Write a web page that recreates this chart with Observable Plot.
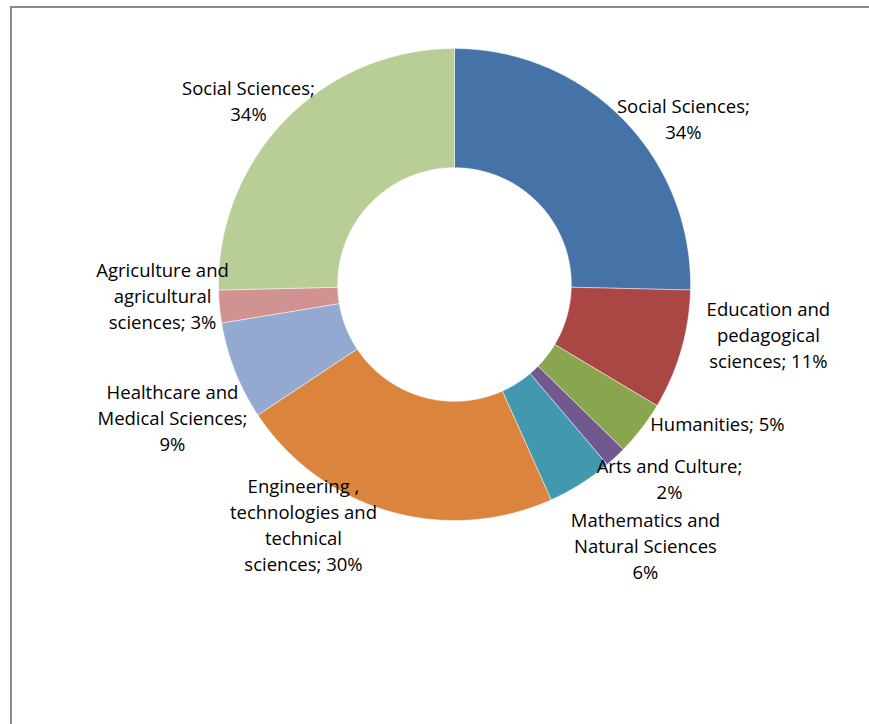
<!DOCTYPE html>
<html>
<head>
<meta charset="utf-8">
<script src="https://cdn.jsdelivr.net/npm/d3@7"></script>
<script src="https://cdn.jsdelivr.net/npm/@observablehq/plot@0.6"></script>
<style>
  html, body { margin: 0; padding: 0; background: #fff; overflow: hidden; }
  #wrap { position: relative; width: 869px; height: 724px; }
  #border { position: absolute; left: 10px; top: 6px; width: 900px; height: 800px;
            border-top: 2px solid #8a8a8a; border-left: 2px solid #8a8a8a; }
  #chart { position: absolute; left: 0; top: 0; }
</style>
</head>
<body>
<div id="wrap"><div id="border"></div><div id="chart"></div></div>
<script>
// ---- data ----
const categories = [
  "Social Sciences (a)",
  "Education and pedagogical sciences",
  "Humanities",
  "Arts and Culture",
  "Mathematics and Natural Sciences",
  "Engineering, technologies and technical sciences",
  "Healthcare and Medical Sciences",
  "Agriculture and agricultural sciences",
  "Social Sciences (b)"
];
const values = [34, 11, 5, 2, 6, 30, 9, 3, 34];
const labels = [
  "Social Sciences;\n34%",
  "Education and\npedagogical\nsciences; 11%",
  "Humanities; 5%",
  "Arts and Culture;\n2%",
  "Mathematics and\nNatural Sciences\n6%",
  "Engineering ,\ntechnologies and\ntechnical\nsciences; 30%",
  "Healthcare and\nMedical Sciences;\n9%",
  "Agriculture and\nagricultural\nsciences; 3%",
  "Social Sciences;\n34%"
];
const colors = ["#4572A7", "#AA4643", "#89A54E", "#71588F", "#4198AF", "#DB843D", "#93A9CF", "#D19392", "#B9CD96"];

// ---- layout (label anchor points in chart units, radius = 1) ----
const labelAt = [
  [0.97, 0.708], [1.33, -0.208], [1.114, -0.585], [0.911, -0.818], [0.809, -1.102],
  [-0.64, -1.013], [-1.195, -0.56], [-1.237, -0.043], [-0.873, 0.783]
];
const innerRatio = 0.495;

// ---- build slices ----
const pie = d3.pie().sort(null).value(d => d)(values);
const pts = [];
pie.forEach((p, i) => {
  const a0 = p.startAngle, a1 = p.endAngle;
  const n = Math.max(2, Math.ceil((a1 - a0) / (Math.PI / 360)));
  for (let k = 0; k <= n; k++) {
    const a = a0 + (a1 - a0) * k / n;
    pts.push({cat: categories[i], x: Math.sin(a), y: Math.cos(a)});
  }
  for (let k = n; k >= 0; k--) {
    const a = a0 + (a1 - a0) * k / n;
    pts.push({cat: categories[i], x: innerRatio * Math.sin(a), y: innerRatio * Math.cos(a)});
  }
  pts.push({cat: categories[i], x: Math.sin(a0), y: Math.cos(a0)});
});
const labelData = labels.map((t, i) => ({text: t, x: labelAt[i][0], y: labelAt[i][1]}));

const W = 869, H = 724, cx = 454, cy = 284, R = 236;
const chart = Plot.plot({
  width: W, height: H,
  margin: 0,
  x: {domain: [-cx / R, (W - cx) / R], axis: null},
  y: {domain: [-(H - cy) / R, cy / R], axis: null},
  color: {domain: categories, range: colors},
  style: {background: "transparent", overflow: "visible"},
  marks: [
    Plot.line(pts, {x: "x", y: "y", z: "cat", fill: "cat", stroke: "white", strokeWidth: 0.6, strokeOpacity: 0.8}),
    Plot.text(labelData, {x: "x", y: "y", text: "text", fontFamily: "Open Sans", fontSize: 18.5,
      lineHeight: 1.405, lineAnchor: "middle", textAnchor: "middle", fill: "#000"})
  ]
});
document.getElementById("chart").appendChild(chart);
</script>
</body>
</html>
